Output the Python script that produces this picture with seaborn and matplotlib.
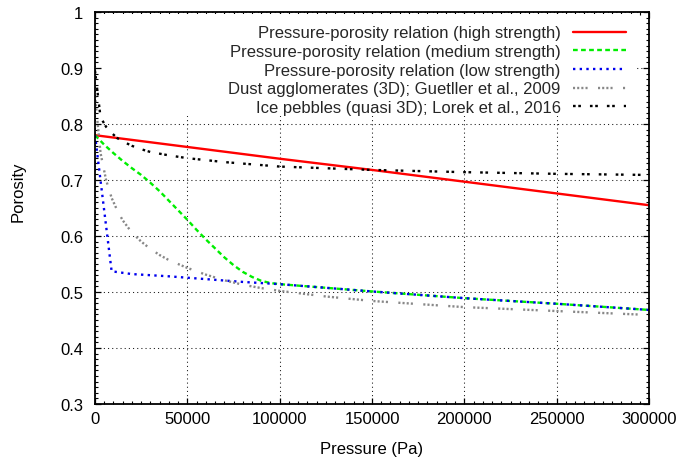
import matplotlib
matplotlib.use("Agg")
import numpy as np
import pandas as pd
import seaborn as sns
import matplotlib.pyplot as plt
from matplotlib.lines import Line2D
from matplotlib.patches import Rectangle
from matplotlib.ticker import MultipleLocator, FuncFormatter

# ---------------- data ----------------
labels = [
    "Pressure-porosity relation (high strength)",
    "Pressure-porosity relation (medium strength)",
    "Pressure-porosity relation (low strength)",
    "Dust agglomerates (3D); Guetller et al., 2009",
    "Ice pebbles (quasi 3D); Lorek et al., 2016",
]

high_p = [0, 50000, 100000, 150000, 200000, 250000, 300000]
high_phi = [0.780, 0.759, 0.738, 0.718, 0.697, 0.676, 0.655]

med_p = [0, 5000, 10000, 15000, 20000, 25000, 30000, 35000, 40000, 45000,
         50000, 55000, 60000, 65000, 70000, 75000, 80000, 85000, 90000,
         95000, 100000, 150000, 200000, 250000, 300000]
med_phi = [0.780, 0.763, 0.748, 0.734, 0.721, 0.709, 0.695, 0.680, 0.663,
           0.646, 0.629, 0.611, 0.594, 0.578, 0.562, 0.548, 0.536, 0.527,
           0.520, 0.516, 0.514, 0.501, 0.489, 0.479, 0.468]

low_p = [0, 9000, 20000, 40000, 60000, 80000, 100000, 150000, 200000,
         250000, 300000]
low_phi = [0.780, 0.537, 0.532, 0.528, 0.523, 0.518, 0.514, 0.501, 0.489,
           0.479, 0.468]

dust_p = [0, 3000, 6000, 9000, 12000, 15000, 20000, 25000, 30000, 35000,
          40000, 50000, 60000, 70000, 80000, 90000, 100000, 125000, 150000,
          200000, 250000, 300000]
dust_phi = [0.850, 0.748, 0.700, 0.668, 0.646, 0.628, 0.606, 0.590, 0.577,
            0.566, 0.557, 0.543, 0.531, 0.521, 0.513, 0.507, 0.502, 0.492,
            0.484, 0.473, 0.466, 0.459]

ice_p = [0, 3000, 6000, 9000, 12000, 15000, 20000, 25000, 30000, 40000,
         50000, 70000, 100000, 150000, 200000, 250000, 300000]
ice_phi = [0.895, 0.812, 0.795, 0.784, 0.775, 0.769, 0.761, 0.755, 0.750,
           0.744, 0.739, 0.732, 0.724, 0.718, 0.714, 0.711, 0.709]

colors = ["#ff0000", "#00ee00", "#0000ee", "#888888", "#000000"]
dashes = ["", (3.4, 2.4), (1.7, 3.1), (1.5, 1.5, 1.5, 1.5, 1.5, 1.5, 1.5, 7.5),
          (1.9, 1.9, 1.9, 6.5)]

# ---------------- build long table ----------------
series = [(high_p, high_phi), (med_p, med_phi), (low_p, low_phi),
          (dust_p, dust_phi), (ice_p, ice_phi)]
frames = []
for lab, (p, v) in zip(labels, series):
    frames.append(pd.DataFrame({"Pressure": p, "Porosity": v, "series": lab}))
df = pd.concat(frames, ignore_index=True)

# ---------------- style ----------------
sns.set_theme(style="white")
plt.rcParams["font.family"] = ["Liberation Sans", "DejaVu Sans"]
plt.rcParams["lines.scale_dashes"] = False

fig = plt.figure(figsize=(6.84, 4.64), dpi=100)
ax = fig.add_axes([95 / 684, 1 - 405 / 464, 554 / 684, 392 / 464])

LW = 1.7
sns.lineplot(data=df, x="Pressure", y="Porosity", hue="series", style="series",
             hue_order=labels, style_order=labels,
             palette=dict(zip(labels, colors)),
             dashes=dict(zip(labels, dashes)),
             estimator=None, errorbar=None, linewidth=LW, legend=False,
             ax=ax, zorder=2)

ax.set_xlim(0, 300000)
ax.set_ylim(0.3, 1.0)
ax.xaxis.set_major_locator(MultipleLocator(50000))
ax.xaxis.set_minor_locator(MultipleLocator(5000))
ax.yaxis.set_major_locator(MultipleLocator(0.1))
ax.yaxis.set_minor_locator(MultipleLocator(0.01))
ax.xaxis.set_major_formatter(FuncFormatter(lambda v, pos: "%d" % round(v)))
ax.yaxis.set_major_formatter(FuncFormatter(lambda v, pos: "%g" % round(v, 2)))

ax.tick_params(which="both", direction="in", top=True, right=True,
               bottom=True, left=True, color="black", labelsize=12,
               labelcolor="black")
ax.tick_params(which="major", length=4.5, width=0.9)
ax.tick_params(which="minor", length=2.3, width=0.8)
ax.tick_params(axis="x", which="major", pad=5)
ax.tick_params(axis="y", which="major", pad=8.5)

for s in ax.spines.values():
    s.set_visible(True)
    s.set_color("black")
    s.set_linewidth(1.3)

ax.set_axisbelow(True)
ax.grid(True, which="major", color="#222222", linewidth=0.75,
        linestyle=(0, (0.8, 2.2)))

# opaque key box (hides grid behind the key, as in the reference)
ax.add_patch(Rectangle((8 / 554, 1 - (117 - 13) / 392), (636 - 103) / 554,
                       (117 - 13) / 392 - 0.004, transform=ax.transAxes,
                       facecolor="white", edgecolor="none", zorder=1))

ax.set_xlabel("Pressure (Pa)", fontsize=12, color="black")
ax.set_ylabel("Porosity", fontsize=12, color="black")
ax.xaxis.set_label_coords(0.5, -(450 - 405) / 392)
ax.xaxis.label.set_va("center")
ax.yaxis.set_label_coords(-(95 - 18) / 554, 1 - (192 - 13) / 392)
ax.yaxis.label.set_va("center")

handles = [Line2D([], [], color=c, linewidth=LW,
                  linestyle=(0, d) if d else "-")
           for c, d in zip(colors, dashes)]
leg = ax.legend(handles, labels, loc="upper right",
                bbox_to_anchor=((625.7 - 95) / 554, 1 - (26.5 - 13) / 392),
                markerfirst=False, frameon=False, fontsize=12,
                handlelength=3.18, handletextpad=0.72, labelspacing=0.22,
                borderaxespad=0, borderpad=0)
leg.set_zorder(3)

fig.savefig("out.png", dpi=100)
